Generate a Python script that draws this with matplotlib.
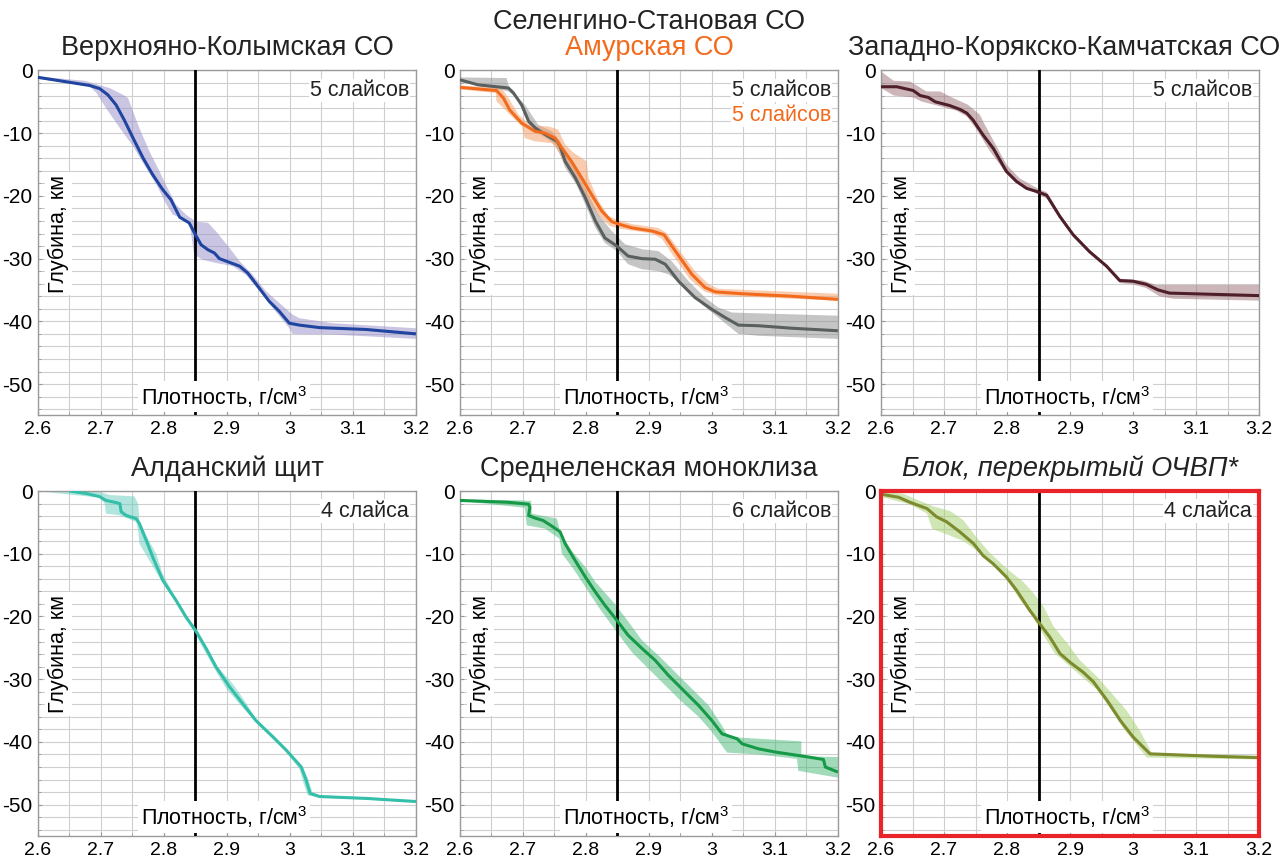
import numpy as np
import matplotlib
matplotlib.use('Agg')
import matplotlib.pyplot as plt
from matplotlib.ticker import MultipleLocator

plt.rcParams['font.family'] = ['Liberation Sans', 'DejaVu Sans']
plt.rcParams['axes.unicode_minus'] = False

# ---- данные: (плотность, глубина) ----
# Верхнояно-Колымская СО
p1_line = [(2.600, -1.1), (2.682, -2.4), (2.698, -2.9), (2.711, -3.9), (2.724, -5.5), (2.737, -7.9),
           (2.751, -10.8), (2.767, -14.0), (2.782, -16.6), (2.798, -19.0), (2.811, -20.6), (2.825, -23.4),
           (2.840, -24.3), (2.850, -26.2), (2.859, -27.8), (2.870, -28.6), (2.880, -29.1), (2.888, -30.0),
           (2.904, -30.6), (2.920, -31.2), (2.933, -32.3), (2.949, -34.4), (2.967, -36.8), (2.983, -38.4),
           (2.999, -40.3), (3.015, -40.6), (3.047, -41.0), (3.121, -41.3), (3.200, -42.0)]
p1_hi = [(2.600, -0.96), (2.674, -1.65), (2.714, -2.82), (2.735, -3.88), (2.743, -4.41), (2.751, -6.54),
         (2.761, -9.19), (2.777, -12.9), (2.793, -16.1), (2.806, -18.8), (2.819, -21.4), (2.835, -23.0),
         (2.851, -24.1), (2.870, -24.3), (2.883, -25.7), (2.904, -28.3), (2.920, -30.4), (2.941, -32.6),
         (2.962, -35.2), (2.989, -37.6), (3.004, -38.9), (3.015, -39.5), (3.068, -40.3), (3.200, -41.1)]
p1_lo = [(2.600, -1.33), (2.682, -2.55), (2.693, -3.61), (2.708, -6.00), (2.730, -9.19), (2.751, -12.1),
         (2.772, -15.6), (2.788, -18.2), (2.804, -21.4), (2.814, -23.0), (2.827, -23.5), (2.841, -24.6),
         (2.848, -29.4), (2.862, -30.2), (2.883, -30.7), (2.909, -31.2), (2.930, -32.6), (2.952, -35.2),
         (2.973, -37.9), (2.999, -41.1), (3.004, -42.0), (3.068, -42.1), (3.200, -42.8)]

# Селенгино-Становая СО
p2_line = [(2.600, -1.5), (2.629, -2.3), (2.677, -2.8), (2.685, -3.6), (2.698, -5.5), (2.709, -8.1),
           (2.720, -9.2), (2.735, -10.2), (2.754, -11.3), (2.759, -12.1), (2.767, -14.5), (2.783, -17.1),
           (2.799, -20.3), (2.815, -24.0), (2.830, -26.7), (2.849, -28.0), (2.867, -29.6), (2.889, -30.0),
           (2.910, -30.1), (2.926, -30.9), (2.947, -33.6), (2.973, -36.2), (3.000, -38.1), (3.021, -39.4),
           (3.042, -40.6), (3.074, -40.7), (3.127, -41.1), (3.200, -41.5)]
p2_hi = [(2.600, -1.11), (2.674, -1.22), (2.679, -3.08), (2.703, -5.46), (2.724, -8.64), (2.746, -9.70),
         (2.759, -11.3), (2.767, -13.4), (2.788, -16.6), (2.804, -19.8), (2.820, -23.0), (2.841, -25.6),
         (2.862, -27.7), (2.889, -28.5), (2.915, -28.8), (2.936, -30.4), (2.963, -33.6), (2.989, -36.2),
         (3.010, -37.8), (3.032, -38.6), (3.200, -39.1)]
p2_lo = [(2.600, -1.86), (2.677, -3.34), (2.690, -4.40), (2.701, -6.79), (2.709, -8.64), (2.724, -9.97),
         (2.751, -11.8), (2.759, -13.4), (2.767, -15.5), (2.785, -18.2), (2.799, -21.4), (2.815, -25.1),
         (2.830, -27.5), (2.849, -28.8), (2.867, -30.9), (2.889, -31.7), (2.915, -32.0), (2.931, -32.5),
         (2.958, -34.6), (2.984, -37.3), (3.010, -39.4), (3.042, -42.0), (3.074, -42.3), (3.200, -42.8)]

# Амурская СО
p2b_line = [(2.600, -2.7), (2.658, -3.2), (2.669, -4.4), (2.679, -6.3), (2.698, -8.4), (2.719, -9.7),
            (2.735, -10.0), (2.751, -10.8), (2.762, -12.4), (2.777, -14.5), (2.793, -17.1), (2.809, -19.8),
            (2.825, -22.4), (2.841, -24.1), (2.852, -24.5), (2.873, -25.1), (2.905, -25.6), (2.924, -26.2),
            (2.942, -28.8), (2.968, -32.5), (2.989, -34.6), (3.005, -35.3), (3.048, -35.6), (3.127, -36.0),
            (3.200, -36.5)]
p2b_hi = [(2.600, -2.39), (2.666, -2.81), (2.677, -4.40), (2.693, -7.05), (2.714, -8.91), (2.740, -8.91),
          (2.756, -9.44), (2.767, -11.8), (2.780, -13.1), (2.801, -14.5), (2.804, -17.1), (2.820, -20.8),
          (2.836, -23.2), (2.852, -23.9), (2.873, -24.5), (2.915, -25.1), (2.928, -25.9), (2.947, -28.5),
          (2.973, -32.0), (2.995, -34.1), (3.010, -34.8), (3.200, -35.6)]
p2b_lo = [(2.600, -3.02), (2.657, -3.61), (2.658, -4.93), (2.669, -5.99), (2.682, -7.32), (2.698, -8.91),
          (2.703, -10.8), (2.719, -11.3), (2.746, -11.6), (2.756, -12.9), (2.767, -15.0), (2.785, -17.7),
          (2.801, -20.3), (2.820, -23.2), (2.838, -24.8), (2.852, -25.2), (2.905, -26.0), (2.920, -26.8),
          (2.939, -29.6), (2.965, -33.3), (2.989, -35.3), (3.010, -35.9), (3.200, -36.7)]

# Западно-Корякско-Камчатская СО
p3_line = [(2.600, -2.6), (2.625, -2.6), (2.651, -3.2), (2.662, -4.0), (2.675, -4.3), (2.686, -5.0),
           (2.709, -5.6), (2.725, -6.2), (2.736, -6.8), (2.746, -7.9), (2.762, -10.3), (2.778, -12.4),
           (2.799, -16.1), (2.815, -17.7), (2.831, -18.8), (2.850, -19.4), (2.863, -19.9), (2.884, -23.3),
           (2.905, -26.2), (2.931, -28.9), (2.958, -31.2), (2.979, -33.5), (3.000, -33.6), (3.021, -34.1),
           (3.040, -35.0), (3.058, -35.5), (3.200, -35.9)]
p3_hi = [(2.600, -0.16), (2.620, -1.65), (2.646, -1.75), (2.672, -3.35), (2.694, -3.35), (2.709, -4.14),
         (2.738, -5.47), (2.757, -7.07), (2.762, -8.13), (2.778, -11.1), (2.799, -15.0), (2.820, -17.2),
         (2.850, -18.9), (2.863, -19.4), (2.884, -22.9), (2.905, -25.9), (2.931, -28.6), (2.958, -31.0),
         (2.979, -33.2), (3.016, -33.5), (3.037, -34.2), (3.200, -34.2)]
p3_lo = [(2.600, -2.82), (2.620, -3.99), (2.651, -4.30), (2.664, -4.94), (2.688, -5.58), (2.720, -6.43),
         (2.736, -7.33), (2.752, -9.46), (2.773, -12.9), (2.799, -16.4), (2.820, -18.1), (2.850, -19.8),
         (2.863, -20.4), (2.884, -23.6), (2.905, -26.5), (2.931, -29.1), (2.958, -31.5), (2.979, -33.9),
         (3.000, -34.1), (3.021, -34.7), (3.042, -36.0), (3.064, -36.4), (3.200, -36.7)]

# Алданский щит
p4_line = [(2.650, 0.0), (2.677, -0.4), (2.698, -0.9), (2.708, -1.5), (2.722, -1.8), (2.730, -2.0),
           (2.732, -3.3), (2.740, -3.9), (2.756, -4.4), (2.761, -5.2), (2.772, -7.9), (2.782, -10.5),
           (2.798, -14.2), (2.819, -17.4), (2.835, -20.1), (2.850, -22.2), (2.867, -25.1), (2.883, -28.1),
           (2.904, -31.2), (2.925, -33.9), (2.946, -36.6), (2.973, -39.2), (2.994, -41.3), (3.018, -44.0),
           (3.025, -45.9), (3.032, -48.2), (3.047, -48.7), (3.121, -49.0), (3.200, -49.5)]
p4_hi = [(2.608, 0.0), (2.693, 0.0), (2.714, -0.64), (2.753, -0.85), (2.759, -2.02), (2.761, -4.68),
         (2.772, -7.07), (2.788, -10.1), (2.798, -13.2), (2.819, -17.2), (2.851, -22.1), (2.883, -27.8),
         (2.909, -30.7), (2.928, -33.4), (2.946, -36.3), (2.973, -38.9), (2.994, -41.1), (3.018, -43.7),
         (3.028, -45.6), (3.036, -48.1), (3.047, -48.5), (3.121, -48.9), (3.200, -49.3)]
p4_lo = [(2.608, -0.11), (2.698, -1.06), (2.706, -2.02), (2.708, -3.61), (2.730, -3.88), (2.756, -4.94),
         (2.759, -6.27), (2.761, -8.40), (2.777, -11.1), (2.796, -14.3), (2.817, -17.5), (2.848, -22.5),
         (2.864, -25.4), (2.880, -28.3), (2.899, -31.5), (2.922, -34.2), (2.946, -36.8), (2.973, -39.5),
         (2.994, -41.6), (3.015, -44.3), (3.021, -46.4), (3.028, -48.5), (3.047, -48.9), (3.121, -49.2),
         (3.200, -49.6)]

# Среднеленская моноклиза
p5_line = [(2.600, -1.5), (2.677, -1.8), (2.709, -2.1), (2.711, -2.6), (2.709, -3.9), (2.719, -4.3),
           (2.732, -4.7), (2.746, -5.6), (2.759, -6.5), (2.767, -8.4), (2.783, -11.1), (2.799, -13.7),
           (2.815, -16.1), (2.830, -18.2), (2.849, -20.6), (2.867, -23.0), (2.889, -25.1), (2.910, -27.0),
           (2.931, -29.4), (2.955, -31.8), (2.979, -34.2), (3.000, -36.6), (3.016, -38.7), (3.040, -39.5),
           (3.048, -40.3), (3.074, -41.1), (3.100, -41.6), (3.153, -42.4), (3.177, -42.8), (3.180, -44.0),
           (3.200, -44.8)]
p5_hi = [(2.600, -1.33), (2.698, -1.49), (2.713, -1.59), (2.714, -3.61), (2.754, -4.41), (2.759, -6.54),
         (2.777, -9.46), (2.799, -12.1), (2.815, -14.5), (2.846, -18.0), (2.862, -20.1), (2.889, -23.8),
         (2.915, -26.2), (2.942, -28.9), (2.968, -31.5), (2.995, -34.2), (3.016, -37.4), (3.026, -39.2),
         (3.142, -39.9), (3.142, -42.3), (3.200, -42.4)]
p5_lo = [(2.600, -1.59), (2.703, -2.66), (2.706, -5.47), (2.735, -6.00), (2.758, -7.60), (2.762, -10.0),
         (2.780, -12.4), (2.799, -15.3), (2.820, -18.5), (2.849, -22.5), (2.873, -25.7), (2.899, -28.3),
         (2.926, -31.0), (2.952, -33.6), (2.979, -36.0), (3.000, -38.4), (3.024, -41.7), (3.074, -42.0),
         (3.135, -42.7), (3.137, -44.6), (3.200, -45.7)]

# Блок, перекрытый ОЧВП*
p6_line = [(2.600, -0.5), (2.628, -1.0), (2.646, -1.8), (2.673, -2.8), (2.688, -4.1), (2.704, -4.9),
           (2.725, -6.5), (2.747, -8.4), (2.762, -10.3), (2.778, -11.6), (2.799, -13.7), (2.815, -15.8),
           (2.836, -19.0), (2.850, -20.9), (2.868, -23.3), (2.884, -25.9), (2.900, -27.3), (2.921, -28.9),
           (2.937, -30.4), (2.959, -33.4), (2.980, -36.6), (3.000, -39.2), (3.027, -41.9), (3.054, -42.0),
           (3.133, -42.3), (3.200, -42.5)]
p6_hi = [(2.600, -0.11), (2.635, -0.43), (2.657, -1.38), (2.683, -2.44), (2.710, -3.19), (2.731, -4.68),
         (2.752, -7.44), (2.773, -9.88), (2.800, -12.4), (2.826, -14.5), (2.842, -16.3), (2.858, -18.4),
         (2.874, -21.6), (2.895, -24.2), (2.916, -27.0), (2.943, -29.6), (2.964, -32.0), (2.990, -35.0),
         (3.011, -38.2), (3.030, -41.8), (3.200, -42.2)]
p6_lo = [(2.600, -0.96), (2.646, -2.13), (2.673, -3.61), (2.681, -6.00), (2.704, -6.91), (2.731, -7.97),
         (2.757, -9.88), (2.784, -12.4), (2.802, -14.5), (2.821, -17.4), (2.839, -19.8), (2.858, -23.0),
         (2.876, -25.9), (2.898, -27.8), (2.921, -29.8), (2.943, -31.7), (2.964, -34.7), (2.985, -37.9),
         (3.006, -40.5), (3.022, -42.5), (3.200, -42.8)]

x_ticks = [2.6, 2.7, 2.8, 2.9, 3.0, 3.1, 3.2]
x_labels = ['2.6', '2.7', '2.8', '2.9', '3', '3.1', '3.2']
y_ticks = [0, -10, -20, -30, -40, -50]
y_labels = ['0', '-10', '-20', '-30', '-40', '-50']
ref_density = 2.85


def draw_curve(ax, line, hi, lo, color, fill):
    hi = np.array(hi)
    lo = np.array(lo)
    poly = np.concatenate([hi, lo[::-1]])
    ax.fill(poly[:, 0], poly[:, 1], color=fill, alpha=0.5, lw=0, zorder=2)
    line = np.array(line)
    ax.plot(line[:, 0], line[:, 1], color=color, lw=2.2, zorder=4,
            solid_joinstyle='round', solid_capstyle='butt')


def setup(ax, counts):
    ax.set_xlim(2.6, 3.2)
    ax.set_ylim(-55, 0)
    ax.set_xticks(x_ticks)
    ax.set_xticklabels(x_labels)
    ax.set_yticks(y_ticks)
    ax.set_yticklabels(y_labels)
    ax.xaxis.set_minor_locator(MultipleLocator(0.05))
    ax.yaxis.set_minor_locator(MultipleLocator(2))
    ax.grid(True, which='both', color='#cfcfcf', lw=0.8, zorder=0)
    ax.set_axisbelow(True)
    ax.tick_params(which='both', color='#999999', length=3, direction='in')
    ax.tick_params(axis='x', pad=4, labelsize=14)
    ax.tick_params(axis='y', pad=4, labelsize=15)
    ax.tick_params(which='minor', length=2)
    for s in ax.spines.values():
        s.set_color('#9a9a9a')
        s.set_linewidth(1)
    ax.axvline(ref_density, color='black', lw=2, zorder=3)
    ax.text(2.633, -26, 'Глубина, км', rotation=90, ha='center', va='center', fontsize=15.5,
            bbox=dict(facecolor='white', edgecolor='none', pad=2), zorder=6)
    ax.text(2.895, -52, 'Плотность, г/см$^3$', ha='center', va='center', fontsize=15.5,
            bbox=dict(facecolor='white', edgecolor='none', pad=2), zorder=6)
    for i, (txt, col) in enumerate(counts):
        ax.text(0.982, 0.942 - i * 0.073, txt, transform=ax.transAxes, ha='right', va='center',
                fontsize=15.5, color=col, zorder=6,
                bbox=dict(facecolor='white', edgecolor='none', pad=1))


plt.rcParams['mathtext.fontset'] = 'custom'
plt.rcParams['mathtext.rm'] = 'Liberation Sans'
plt.rcParams['mathtext.default'] = 'regular'

fig = plt.figure(figsize=(12.83, 8.61), dpi=100)
lefts = [0.0296, 0.3585, 0.6867]
w, h = 0.2946, 0.4007
axs = [[fig.add_axes([l, b, w, h]) for l in lefts] for b in (0.5175, 0.0290)]

dark = '#222222'
orange = '#f26b1d'

ax = axs[0][0]
draw_curve(ax, p1_line, p1_hi, p1_lo, '#1f45a0', '#958dc8')
setup(ax, [('5 слайсов', dark)])
ax.text(0.5, 1.064, 'Верхнояно-Колымская СО', transform=ax.transAxes, ha='center', va='center',
        fontsize=19.5, color=dark)

ax = axs[0][1]
draw_curve(ax, p2_line, p2_hi, p2_lo, '#5a6060', '#8c8c8c')
draw_curve(ax, p2b_line, p2b_hi, p2b_lo, orange, '#f79a60')
setup(ax, [('5 слайсов', dark), ('5 слайсов', orange)])
ax.text(0.5, 1.139, 'Селенгино-Становая СО', transform=ax.transAxes, ha='center', va='center',
        fontsize=19.5, color=dark)
ax.text(0.5, 1.064, 'Амурская СО', transform=ax.transAxes, ha='center', va='center',
        fontsize=19.5, color=orange)

ax = axs[0][2]
draw_curve(ax, p3_line, p3_hi, p3_lo, '#4e1f28', '#9a6f76')
setup(ax, [('5 слайсов', dark)])
fig.text(0.998, ax.get_position().y1 + 0.064 * h, 'Западно-Корякско-Камчатская СО',
         ha='right', va='center', fontsize=19.5, color=dark)

ax = axs[1][0]
draw_curve(ax, p4_line, p4_hi, p4_lo, '#33bfa9', '#66cdbd')
setup(ax, [('4 слайса', dark)])
ax.text(0.5, 1.064, 'Алданский щит', transform=ax.transAxes, ha='center', va='center',
        fontsize=19.5, color=dark)

ax = axs[1][1]
draw_curve(ax, p5_line, p5_hi, p5_lo, '#169a48', '#45b977')
setup(ax, [('6 слайсов', dark)])
ax.text(0.5, 1.064, 'Среднеленская моноклиза', transform=ax.transAxes, ha='center', va='center',
        fontsize=19.5, color=dark)

ax = axs[1][2]
draw_curve(ax, p6_line, p6_hi, p6_lo, '#7d8b2e', '#a3cf6a')
setup(ax, [('4 слайса', dark)])
ax.text(0.5, 1.064, 'Блок, перекрытый ОЧВП*', transform=ax.transAxes, ha='center', va='center',
        fontsize=19.5, color=dark, style='italic')
for s in ax.spines.values():
    s.set_color('#e8242a')
    s.set_linewidth(3)
    s.set_zorder(7)

fig.savefig('out.png', dpi=100)
